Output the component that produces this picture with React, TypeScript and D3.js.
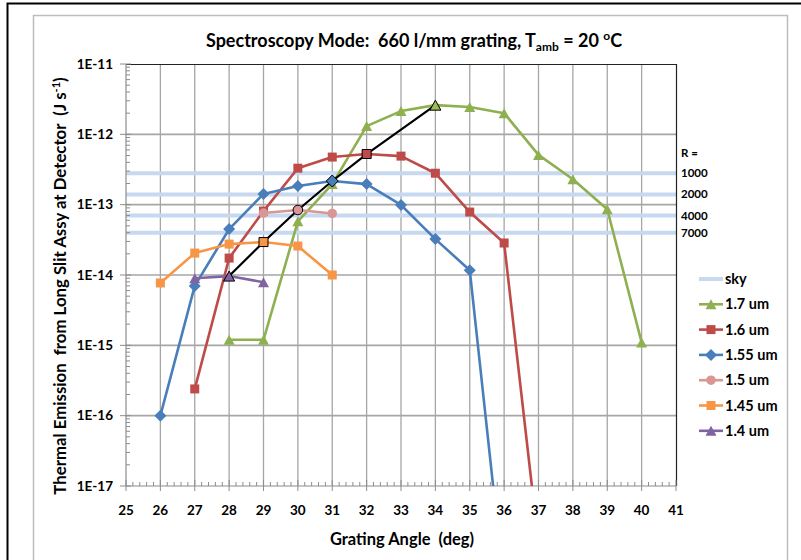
import React from "react";
import * as d3 from "d3";

const angles = [25, 26, 27, 28, 29, 30, 31, 32, 33, 34, 35, 36, 37, 38, 39, 40, 41];
const yTickLabels = ["1E-17", "1E-16", "1E-15", "1E-14", "1E-13", "1E-12", "1E-11"];

const skyLevels = [2.8e-13, 1.4e-13, 7.0e-14, 4.0e-14];
const skyR = ["1000", "2000", "4000", "7000"];

const x17 = [28, 29, 30, 31, 32, 33, 34, 35, 36, 37, 38, 39, 40];
const y17 = [1.2e-15, 1.2e-15, 5.8e-14, 1.96e-13, 1.31e-12, 2.14e-12, 2.6e-12, 2.45e-12, 2.0e-12, 5.1e-13, 2.3e-13, 8.6e-14, 1.1e-15];

const x16 = [27, 28, 29, 30, 31, 32, 33, 34, 35, 36, 37];
const y16 = [2.4e-16, 1.74e-14, 8.1e-14, 3.3e-13, 4.75e-13, 5.25e-13, 4.9e-13, 2.8e-13, 7.85e-14, 2.85e-14, 1.5e-18];

const x155 = [26, 27, 28, 29, 30, 31, 32, 33, 34, 35, 36];
const y155 = [1.0e-16, 7.0e-15, 4.5e-14, 1.42e-13, 1.84e-13, 2.17e-13, 1.96e-13, 9.9e-14, 3.24e-14, 1.17e-14, 3.6e-19];

const x15 = [29, 30, 31];
const y15 = [7.6e-14, 8.4e-14, 7.5e-14];

const x145 = [26, 27, 28, 29, 30, 31];
const y145 = [7.7e-15, 2.05e-14, 2.75e-14, 2.94e-14, 2.58e-14, 1.0e-14];

const x14 = [27, 28, 29];
const y14 = [9.0e-15, 9.65e-15, 7.9e-15];

// peak (black) line through the highlighted points
const xPeak = [28, 29, 30, 31, 32, 34];
const yPeak = [9.65e-15, 2.94e-14, 8.4e-14, 2.17e-13, 5.25e-13, 2.6e-12];
const peakShapes = ["triangle", "square", "circle", "diamond", "square", "triangle"];
const peakColors = ["#8064a2", "#f79646", "#d99694", "#4a7ebb", "#be4b48", "#9bbb59"];

const seriesNames = ["1.7 um", "1.6 um", "1.55 um", "1.5 um", "1.45 um", "1.4 um"];
const seriesColors = ["#8fb050", "#be4b48", "#4a7ebb", "#d99694", "#f79646", "#8064a2"];
const seriesShapes = ["triangle", "square", "diamond", "circle", "square", "triangle"];
const seriesX = [x17, x16, x155, x15, x145, x14];
const seriesY = [y17, y16, y155, y15, y145, y14];

const SKY = "#c6d9f1";
const FONT = "Lato, 'Open Sans', sans-serif";

function markerPath(shape: string, cx: number, cy: number): string {
  if (shape === "triangle") {
    const w = 11, h = 10;
    return `M${cx},${cy - h / 2}L${cx + w / 2},${cy + h / 2}L${cx - w / 2},${cy + h / 2}Z`;
  }
  if (shape === "square") {
    const s = 9;
    return `M${cx - s / 2},${cy - s / 2}h${s}v${s}h${-s}Z`;
  }
  if (shape === "diamond") {
    const r = 6;
    return `M${cx},${cy - r}L${cx + r},${cy}L${cx},${cy + r}L${cx - r},${cy}Z`;
  }
  const r = 4.8;
  return `M${cx - r},${cy}a${r},${r} 0 1,0 ${2 * r},0a${r},${r} 0 1,0 ${-2 * r},0Z`;
}

export default function App() {
  const W = 801, H = 560;
  const x = d3.scaleLinear().domain([25, 41]).range([126, 676]);
  const y = d3.scaleLog().domain([1e-17, 1e-11]).range([486, 64]);
  const line = d3.line<[number, number]>().x((d) => x(d[0])).y((d) => y(d[1]));

  const decades = d3.range(-17, -10).map((e) => Math.pow(10, e));
  const minorY: number[] = [];
  for (let e = -17; e < -11; e++) for (let m = 2; m <= 9; m++) minorY.push(m * Math.pow(10, e));
  const minorX: number[] = [];
  for (let a = 25; a < 41; a++) for (let k = 1; k <= 4; k++) minorX.push(a + k * 0.2);

  const legendItems = ["sky", ...seriesNames];

  return (
    <svg width={W} height={H} style={{ position: "absolute", left: 0, top: 0, background: "#fff" }} fontFamily={FONT}>
      <defs>
        <clipPath id="plotclip">
          <rect x={126} y={64} width={550} height={422} />
        </clipPath>
      </defs>
      <rect x={0} y={0} width={W} height={H} fill="#fff" />
      {/* outer frames */}
      <path d={`M7.5,${H}V3.5H${W}`} fill="none" stroke="#000" strokeWidth={2} />
      <path d={`M33.5,${H}V15.5H787.5V${H}`} fill="none" stroke="#bdbdbd" strokeWidth={1.5} />

      {/* gridlines */}
      {angles.slice(1, -1).map((a) => (
        <line key={"vg" + a} x1={x(a)} x2={x(a)} y1={64} y2={486} stroke="#a6a6a6" strokeWidth={1.3} />
      ))}
      {decades.slice(1, -1).map((v, i) => (
        <line key={"hg" + i} x1={126} x2={676} y1={y(v)} y2={y(v)} stroke="#a6a6a6" strokeWidth={1.6} />
      ))}

      {/* sky lines */}
      {skyLevels.map((v, i) => (
        <line key={"sky" + i} x1={126} x2={676} y1={y(v)} y2={y(v)} stroke={SKY} strokeWidth={4} />
      ))}

      {/* plot border top/right */}
      <path d={`M126,64.5H676.5V486`} fill="none" stroke="#222" strokeWidth={1.2} />

      {/* axes */}
      <line x1={126} x2={676} y1={486} y2={486} stroke="#8c8c8c" strokeWidth={1.2} />
      <line x1={126} x2={126} y1={64} y2={486} stroke="#8c8c8c" strokeWidth={1.2} />
      {angles.map((a) => (
        <line key={"xt" + a} x1={x(a)} x2={x(a)} y1={480} y2={491} stroke="#8c8c8c" strokeWidth={1} />
      ))}
      {minorX.map((a, i) => (
        <line key={"xm" + i} x1={x(a)} x2={x(a)} y1={482} y2={486} stroke="#8c8c8c" strokeWidth={1} />
      ))}
      {decades.map((v, i) => (
        <line key={"yt" + i} x1={120} x2={131} y1={y(v)} y2={y(v)} stroke="#8c8c8c" strokeWidth={1} />
      ))}
      {minorY.map((v, i) => (
        <line key={"ym" + i} x1={126} x2={130} y1={y(v)} y2={y(v)} stroke="#8c8c8c" strokeWidth={1} />
      ))}

      {/* tick labels */}
      {angles.map((a) => (
        <text key={"xl" + a} x={x(a)} y={515} textAnchor="middle" fontSize={13.5} fontWeight="bold" fill="#000">
          {a}
        </text>
      ))}
      {decades.map((v, i) => (
        <text key={"yl" + i} x={113} y={y(v) + 4.5} textAnchor="end" fontSize={13.5} fontWeight="bold" fill="#000">
          {yTickLabels[i]}
        </text>
      ))}

      {/* series */}
      <g clipPath="url(#plotclip)">
        {seriesX.map((xs, si) => {
          const pts: [number, number][] = xs.map((a, j) => [a, seriesY[si][j]]);
          return (
            <g key={"s" + si}>
              <path d={line(pts) || ""} fill="none" stroke={seriesColors[si]} strokeWidth={2.6} strokeLinejoin="round" />
              {pts.map((p, j) => (
                <path key={j} d={markerPath(seriesShapes[si], x(p[0]), y(p[1]))} fill={seriesColors[si]} />
              ))}
            </g>
          );
        })}
        <path
          d={line(xPeak.map((a, j) => [a, yPeak[j]] as [number, number])) || ""}
          fill="none"
          stroke="#000"
          strokeWidth={2.2}
        />
        {xPeak.map((a, j) => (
          <path
            key={"pk" + j}
            d={markerPath(peakShapes[j], x(a), y(yPeak[j]))}
            fill={peakColors[j]}
            stroke="#000"
            strokeWidth={1}
          />
        ))}
      </g>

      {/* R labels */}
      <text x={681} y={157} fontSize={11.5} fontWeight="bold" fill="#000">R =</text>
      {skyLevels.map((v, i) => (
        <text key={"r" + i} x={681} y={y(v) + 4} fontSize={11.5} fontWeight="bold" fill="#000">
          {skyR[i]}
        </text>
      ))}

      {/* legend */}
      {legendItems.map((name, i) => {
        const ly = 279 + i * 25.3;
        const color = i === 0 ? SKY : seriesColors[i - 1];
        return (
          <g key={"lg" + i}>
            <line x1={699} x2={723} y1={ly} y2={ly} stroke={color} strokeWidth={i === 0 ? 4 : 2.6} />
            {i > 0 && <path d={markerPath(seriesShapes[i - 1], 711, ly)} fill={color} />}
            <text x={725} y={ly + 5} fontSize={14.5} fontWeight="bold" fill="#000">
              {name}
            </text>
          </g>
        );
      })}

      {/* title */}
      <text x={414} y={47} textAnchor="middle" fontSize={18} fontWeight="bold" fill="#000" style={{ whiteSpace: "pre" }}>
        {"Spectroscopy Mode:  660 l/mm grating, T"}
        <tspan fontSize={12} dy={4}>amb</tspan>
        <tspan dy={-4}>{" = 20 "}</tspan>
        <tspan fontSize={12} dy={-7}>o</tspan>
        <tspan dy={7}>C</tspan>
      </text>

      {/* axis titles */}
      <text x={402} y={545} textAnchor="middle" fontSize={16.5} fontWeight="bold" fill="#000" style={{ whiteSpace: "pre" }}>
        {"Grating Angle  (deg)"}
      </text>
      <text
        transform={`translate(66,286) rotate(-90)`}
        textAnchor="middle"
        fontSize={16.8}
        fontWeight="bold"
        fill="#000"
        style={{ whiteSpace: "pre" }}
      >
        {"Thermal Emission  from Long Slit Assy at Detector  (J s"}
        <tspan fontSize={11} dy={-6}>-1</tspan>
        <tspan dy={6}>)</tspan>
      </text>
    </svg>
  );
}
